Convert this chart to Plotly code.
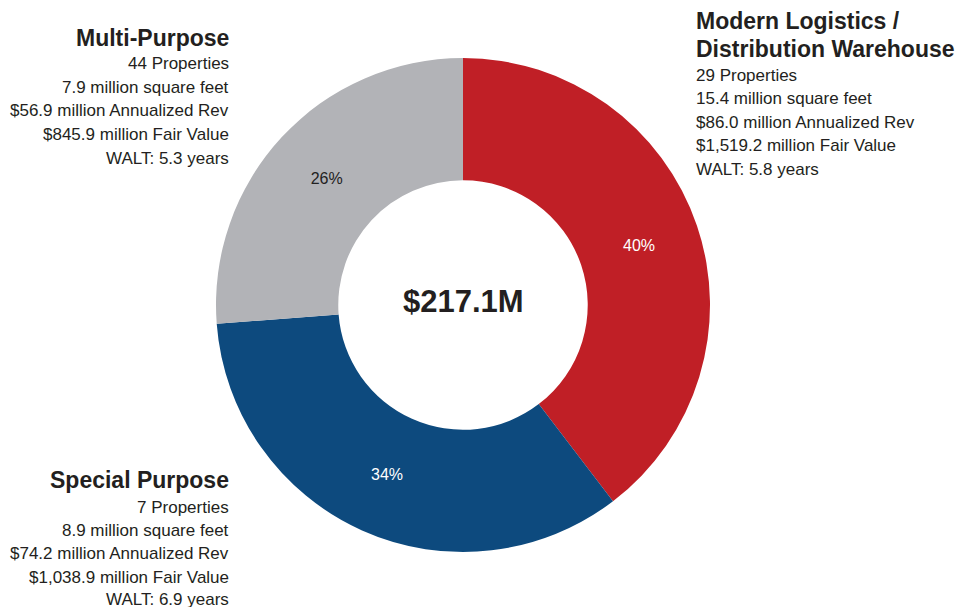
import plotly.graph_objects as go

categories = ["Modern Logistics / Distribution Warehouse", "Special Purpose", "Multi-Purpose"]
annualized_rev = [86.0, 74.2, 56.9]  # $ million
colors = ["#C01F26", "#0D4A7E", "#B2B3B7"]
text_colors = ["#FFFFFF", "#FFFFFF", "#222222"]
center_label = "$217.1M"

titles = {
    "Modern Logistics / Distribution Warehouse": ["Modern Logistics /", "Distribution Warehouse"],
    "Special Purpose": ["Special Purpose"],
    "Multi-Purpose": ["Multi-Purpose"],
}
details = {
    "Modern Logistics / Distribution Warehouse": ["29 Properties", "15.4 million square feet",
                                                  "$86.0 million Annualized Rev", "$1,519.2 million Fair Value",
                                                  "WALT: 5.8 years"],
    "Special Purpose": ["7 Properties", "8.9 million square feet", "$74.2 million Annualized Rev",
                        "$1,038.9 million Fair Value", "WALT: 6.9 years"],
    "Multi-Purpose": ["44 Properties", "7.9 million square feet", "$56.9 million Annualized Rev",
                      "$845.9 million Fair Value", "WALT: 5.3 years"],
}

# page body has an 8px margin; figure is sized to fill the rest of the 964x607 window
OFF = 8
W, H = 964 - OFF, 607 - OFF
FONT = "Liberation Sans, Arial, Helvetica, sans-serif"

def px(x):
    return (x - OFF) / W

def py(y):
    return 1 - (y - OFF) / H

CX, CY, R = 463, 305, 247

fig = go.Figure(go.Pie(
    labels=categories,
    values=annualized_rev,
    hole=0.505,
    sort=False,
    direction="clockwise",
    rotation=0,
    marker=dict(colors=colors, line=dict(width=0)),
    textinfo="percent",
    texttemplate="%{percent:.0%}",
    textposition="inside",
    insidetextorientation="horizontal",
    insidetextfont=dict(family=FONT, size=16, color=text_colors),
    showlegend=False,
    domain=dict(x=[px(CX - R), px(CX + R)], y=[py(CY + R), py(CY - R)]),
))

annotations = []

def add_block(cat, x, title_ys, detail_ys, align):
    anchor = "left" if align == "left" else "right"
    for t, y in zip(titles[cat], title_ys):
        annotations.append(dict(x=px(x), y=py(y), xref="paper", yref="paper", text="<b>" + t + "</b>",
                                showarrow=False, xanchor=anchor, yanchor="middle", align=align,
                                font=dict(family=FONT, size=23, color="#231F20")))
    for t, y in zip(details[cat], detail_ys):
        annotations.append(dict(x=px(x), y=py(y), xref="paper", yref="paper", text=t,
                                showarrow=False, xanchor=anchor, yanchor="middle", align=align,
                                font=dict(family=FONT, size=17, color="#231F20")))

add_block(categories[0], 694, [21, 49], [75, 98, 122, 146, 169], "left")
add_block(categories[2], 231, [38], [64, 87, 111, 134, 158], "right")
add_block(categories[1], 231, [480], [507, 530, 553, 577, 599], "right")

annotations.append(dict(x=px(CX), y=py(301), xref="paper", yref="paper", text="<b>" + center_label + "</b>",
                        showarrow=False, xanchor="center", yanchor="middle",
                        font=dict(family=FONT, size=31, color="#231F20")))

fig.update_layout(
    width=W, height=H,
    margin=dict(l=0, r=0, t=0, b=0),
    paper_bgcolor="white", plot_bgcolor="white",
    annotations=annotations,
)

fig.write_html("out.html")
